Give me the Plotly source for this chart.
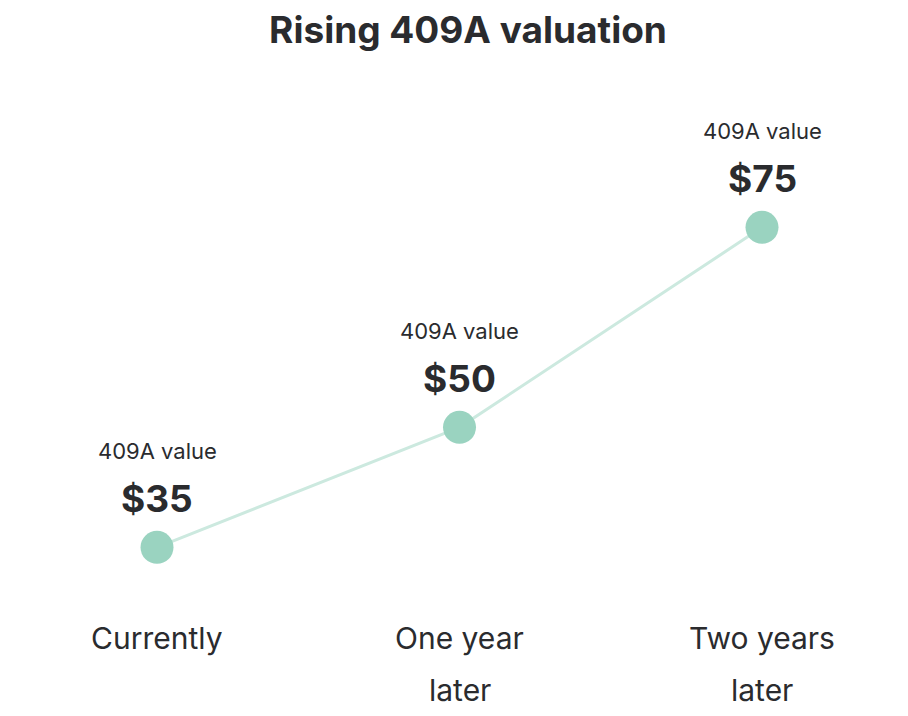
import plotly.graph_objects as go

categories = ["Currently", "One year\nlater", "Two years\nlater"]
values = [35, 50, 75]
value_caption = "409A value"
title_text = "Rising 409A valuation"

TEXT = "#2a2b2e"
FONT = "Inter, Roboto, 'Open Sans', sans-serif"

x = list(range(len(categories)))

fig = go.Figure()
fig.add_trace(go.Scatter(
    x=x, y=values, mode="lines",
    line=dict(color="#cce9df", width=3),
    hoverinfo="skip", showlegend=False,
))
fig.add_trace(go.Scatter(
    x=x, y=values, mode="markers",
    marker=dict(color="#9ad3c0", size=33, line=dict(width=0)),
    hoverinfo="skip", showlegend=False,
))

annotations = []
for xi, v in zip(x, values):
    annotations.append(dict(
        x=xi, y=v, xref="x", yref="y", text=f"<b>${v}</b>",
        showarrow=False, yshift=49, font=dict(size=37, color=TEXT, family=FONT),
        xanchor="center", yanchor="middle",
    ))
    annotations.append(dict(
        x=xi, y=v, xref="x", yref="y", text=value_caption,
        showarrow=False, yshift=96, font=dict(size=22, color=TEXT, family=FONT),
        xanchor="center", yanchor="middle",
    ))

H = 716
OFF = 8  # page body margin
for xi, cat in zip(x, categories):
    lines = cat.split("\n")
    for li, line in enumerate(lines):
        ypix = 638 + 52 * li - OFF
        annotations.append(dict(
            x=xi, y=1 - ypix / H, xref="x", yref="paper", text=line,
            showarrow=False, font=dict(size=30, color=TEXT, family=FONT),
            xanchor="center", yanchor="middle",
        ))

fig.update_layout(
    width=908, height=716,
    margin=dict(l=0, r=0, t=0, b=0),
    paper_bgcolor="white", plot_bgcolor="white",
    title=dict(text=f"<b>{title_text}</b>", x=(468 - OFF) / 908, xref="container",
               y=1 - (30 - OFF) / H, yref="container", xanchor="center", yanchor="middle",
               font=dict(size=37, color=TEXT, family=FONT)),
    xaxis=dict(range=[-0.4926, 2.5091], visible=False, fixedrange=True),
    yaxis=dict(range=[12.92, 102.42], visible=False, fixedrange=True),
    annotations=annotations,
    showlegend=False,
)

fig.write_html("out.html")
